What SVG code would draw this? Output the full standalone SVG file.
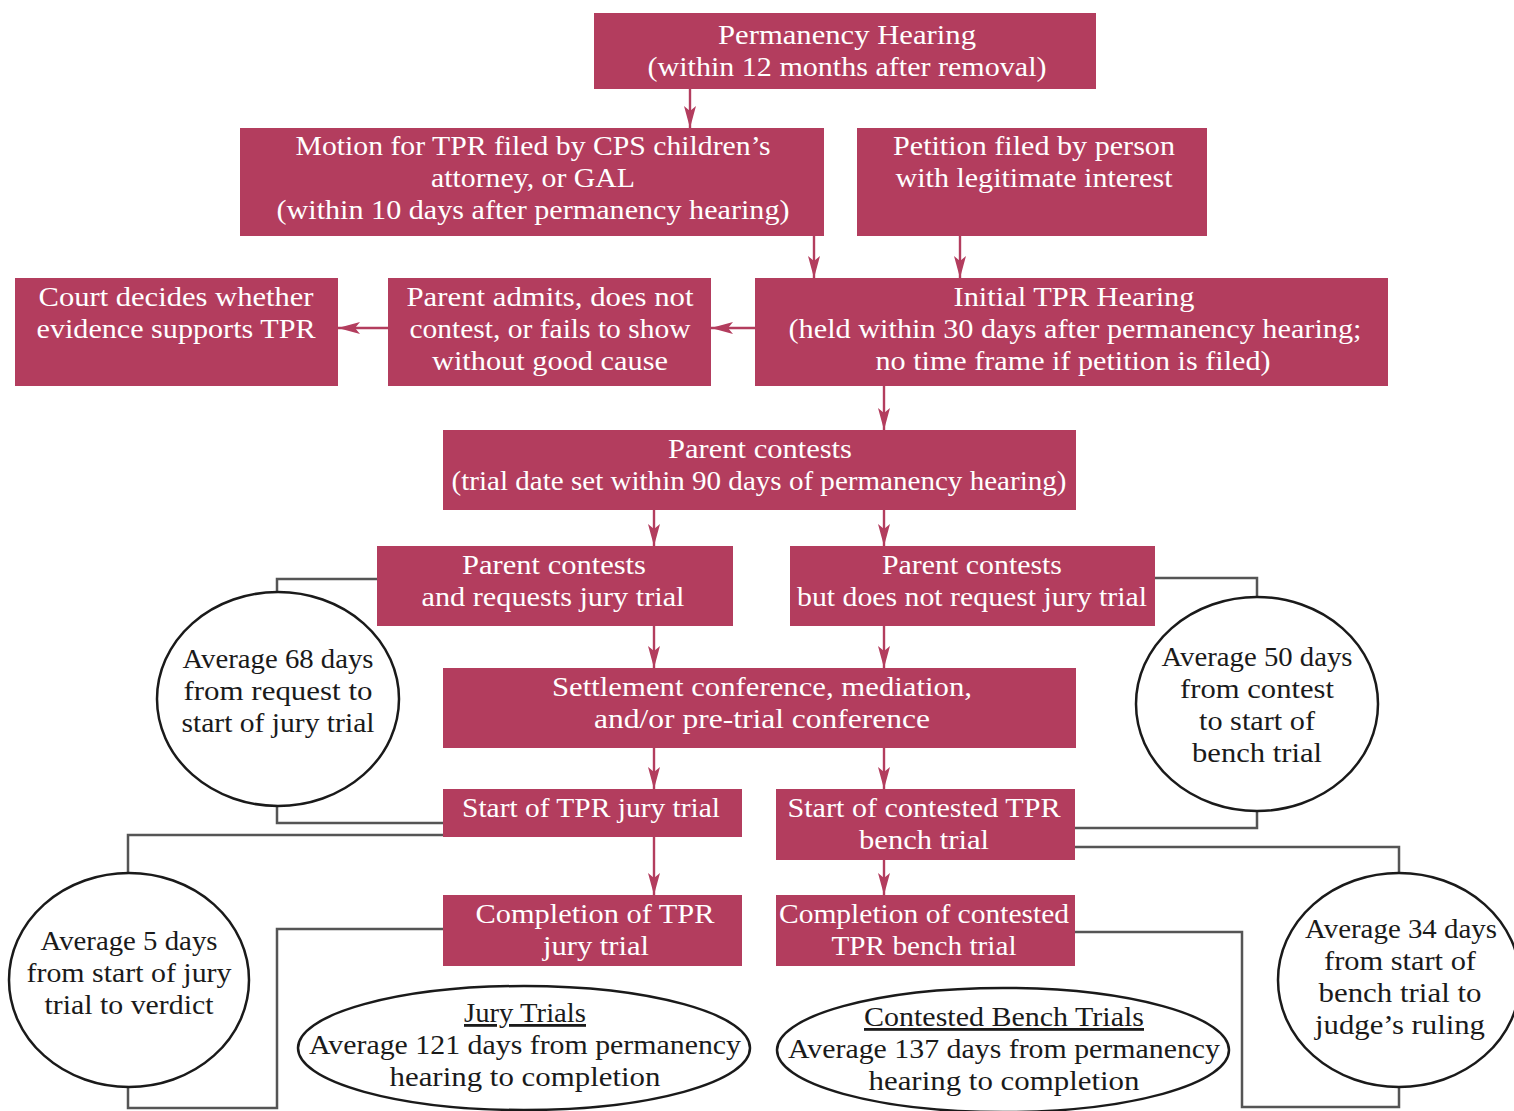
<svg xmlns="http://www.w3.org/2000/svg" width="1514" height="1111" viewBox="0 0 1514 1111">
<style>
.box{fill:#b33d5e}
.bt{fill:#ffffff;font-family:"Liberation Serif","Times New Roman",serif;font-size:28px;text-anchor:middle}
.et{fill:#1a1a1a;font-family:"Liberation Serif","Times New Roman",serif;font-size:28px;text-anchor:middle}
.ell{fill:#ffffff;stroke:#1a1a1a;stroke-width:2.5}
.flow{fill:none;stroke:#b33d5e;stroke-width:2.4}
.link{fill:none;stroke:#555555;stroke-width:2.5}
</style>
<defs>
<marker id="ah" viewBox="0 0 22 12" refX="22" refY="6" markerWidth="22" markerHeight="12" markerUnits="userSpaceOnUse" orient="auto">
<path d="M0,0 L22,6 L0,12 L5,6 Z" fill="#b33d5e"/>
</marker>
</defs>
<rect width="1514" height="1111" fill="#ffffff"/>

<g id="connectors">
<line class="flow" x1="690" y1="89" x2="690" y2="128" marker-end="url(#ah)"/>
<line class="flow" x1="814" y1="236" x2="814" y2="278" marker-end="url(#ah)"/>
<line class="flow" x1="960" y1="236" x2="960" y2="278" marker-end="url(#ah)"/>
<line class="flow" x1="755" y1="328" x2="711" y2="328" marker-end="url(#ah)"/>
<line class="flow" x1="388" y1="328" x2="338" y2="328" marker-end="url(#ah)"/>
<line class="flow" x1="884" y1="386" x2="884" y2="430" marker-end="url(#ah)"/>
<line class="flow" x1="654" y1="510" x2="654" y2="546" marker-end="url(#ah)"/>
<line class="flow" x1="884" y1="510" x2="884" y2="546" marker-end="url(#ah)"/>
<line class="flow" x1="654" y1="626" x2="654" y2="668" marker-end="url(#ah)"/>
<line class="flow" x1="884" y1="626" x2="884" y2="668" marker-end="url(#ah)"/>
<line class="flow" x1="654" y1="748" x2="654" y2="789" marker-end="url(#ah)"/>
<line class="flow" x1="884" y1="748" x2="884" y2="789" marker-end="url(#ah)"/>
<line class="flow" x1="654" y1="837" x2="654" y2="895" marker-end="url(#ah)"/>
<line class="flow" x1="884" y1="860" x2="884" y2="895" marker-end="url(#ah)"/>
<polyline class="link" points="377,579 277,579 277,592"/>
<polyline class="link" points="277,806 277,823 443,823"/>
<polyline class="link" points="1155,578 1257,578 1257,597"/>
<polyline class="link" points="1257,811 1257,828 1075,828"/>
<polyline class="link" points="443,835 128,835 128,873"/>
<polyline class="link" points="128,1087 128,1108 277,1108 277,929 443,929"/>
<polyline class="link" points="1075,847 1399,847 1399,873"/>
<polyline class="link" points="1399,1087 1399,1107 1242,1107 1242,932 1075,932"/>
</g>

<g id="n-permanency">
<rect class="box" x="594" y="13" width="502" height="76"/>
<text class="bt" x="847" y="44" textLength="258" lengthAdjust="spacingAndGlyphs">Permanency Hearing</text>
<text class="bt" x="847" y="76" textLength="399" lengthAdjust="spacingAndGlyphs">(within 12 months after removal)</text>
</g>

<g id="n-motion">
<rect class="box" x="240" y="128" width="584" height="108"/>
<text class="bt" x="533" y="155" textLength="475" lengthAdjust="spacingAndGlyphs">Motion for TPR filed by CPS children’s</text>
<text class="bt" x="533" y="187" textLength="204" lengthAdjust="spacingAndGlyphs">attorney, or GAL</text>
<text class="bt" x="533" y="219" textLength="513" lengthAdjust="spacingAndGlyphs">(within 10 days after permanency hearing)</text>
</g>

<g id="n-petition">
<rect class="box" x="857" y="128" width="350" height="108"/>
<text class="bt" x="1034" y="155" textLength="282" lengthAdjust="spacingAndGlyphs">Petition filed by person</text>
<text class="bt" x="1034" y="187" textLength="277" lengthAdjust="spacingAndGlyphs">with legitimate interest</text>
</g>

<g id="n-initial">
<rect class="box" x="755" y="278" width="633" height="108"/>
<text class="bt" x="1074" y="306" textLength="241" lengthAdjust="spacingAndGlyphs">Initial TPR Hearing</text>
<text class="bt" x="1075" y="338" textLength="573" lengthAdjust="spacingAndGlyphs">(held within 30 days after permanency hearing;</text>
<text class="bt" x="1073" y="370" textLength="395" lengthAdjust="spacingAndGlyphs">no time frame if petition is filed)</text>
</g>

<g id="n-admits">
<rect class="box" x="388" y="278" width="323" height="108"/>
<text class="bt" x="550" y="306" textLength="287" lengthAdjust="spacingAndGlyphs">Parent admits, does not</text>
<text class="bt" x="550" y="338" textLength="281" lengthAdjust="spacingAndGlyphs">contest, or fails to show</text>
<text class="bt" x="550" y="370" textLength="236" lengthAdjust="spacingAndGlyphs">without good cause</text>
</g>

<g id="n-court">
<rect class="box" x="15" y="278" width="323" height="108"/>
<text class="bt" x="176" y="306" textLength="275" lengthAdjust="spacingAndGlyphs">Court decides whether</text>
<text class="bt" x="176" y="338" textLength="279" lengthAdjust="spacingAndGlyphs">evidence supports TPR</text>
</g>

<g id="n-contests">
<rect class="box" x="443" y="430" width="633" height="80"/>
<text class="bt" x="760" y="458" textLength="184" lengthAdjust="spacingAndGlyphs">Parent contests</text>
<text class="bt" x="759" y="490" textLength="615" lengthAdjust="spacingAndGlyphs">(trial date set within 90 days of permanency hearing)</text>
</g>

<g id="n-jury-request">
<rect class="box" x="377" y="546" width="356" height="80"/>
<text class="bt" x="554" y="574" textLength="184" lengthAdjust="spacingAndGlyphs">Parent contests</text>
<text class="bt" x="553" y="606" textLength="263" lengthAdjust="spacingAndGlyphs">and requests jury trial</text>
</g>

<g id="n-no-jury">
<rect class="box" x="790" y="546" width="365" height="80"/>
<text class="bt" x="972" y="574" textLength="180" lengthAdjust="spacingAndGlyphs">Parent contests</text>
<text class="bt" x="972" y="606" textLength="350" lengthAdjust="spacingAndGlyphs">but does not request jury trial</text>
</g>

<g id="n-settlement">
<rect class="box" x="443" y="668" width="633" height="80"/>
<text class="bt" x="762" y="696" textLength="420" lengthAdjust="spacingAndGlyphs">Settlement conference, mediation,</text>
<text class="bt" x="762" y="728" textLength="336" lengthAdjust="spacingAndGlyphs">and/or pre-trial conference</text>
</g>

<g id="n-start-jury">
<rect class="box" x="443" y="789" width="299" height="48"/>
<text class="bt" x="591" y="817" textLength="258" lengthAdjust="spacingAndGlyphs">Start of TPR jury trial</text>
</g>

<g id="n-start-bench">
<rect class="box" x="776" y="789" width="299" height="71"/>
<text class="bt" x="924" y="817" textLength="273" lengthAdjust="spacingAndGlyphs">Start of contested TPR</text>
<text class="bt" x="924" y="849" textLength="130" lengthAdjust="spacingAndGlyphs">bench trial</text>
</g>

<g id="n-complete-jury">
<rect class="box" x="443" y="895" width="299" height="71"/>
<text class="bt" x="595" y="923" textLength="239" lengthAdjust="spacingAndGlyphs">Completion of TPR</text>
<text class="bt" x="596" y="955" textLength="106" lengthAdjust="spacingAndGlyphs">jury trial</text>
</g>

<g id="n-complete-bench">
<rect class="box" x="776" y="895" width="299" height="71"/>
<text class="bt" x="924" y="923" textLength="290" lengthAdjust="spacingAndGlyphs">Completion of contested</text>
<text class="bt" x="924" y="955" textLength="185" lengthAdjust="spacingAndGlyphs">TPR bench trial</text>
</g>

<g id="e-68days">
<ellipse class="ell" cx="278" cy="699" rx="121" ry="107"/>
<text class="et" x="278" y="668" textLength="191" lengthAdjust="spacingAndGlyphs">Average 68 days</text>
<text class="et" x="278" y="700" textLength="189" lengthAdjust="spacingAndGlyphs">from request to</text>
<text class="et" x="278" y="732" textLength="193" lengthAdjust="spacingAndGlyphs">start of jury trial</text>
</g>

<g id="e-50days">
<ellipse class="ell" cx="1257" cy="704" rx="121" ry="107"/>
<text class="et" x="1257" y="666" textLength="191" lengthAdjust="spacingAndGlyphs">Average 50 days</text>
<text class="et" x="1257" y="698" textLength="154" lengthAdjust="spacingAndGlyphs">from contest</text>
<text class="et" x="1257" y="730" textLength="116" lengthAdjust="spacingAndGlyphs">to start of</text>
<text class="et" x="1257" y="762" textLength="130" lengthAdjust="spacingAndGlyphs">bench trial</text>
</g>

<g id="e-5days">
<ellipse class="ell" cx="129" cy="980" rx="120" ry="107"/>
<text class="et" x="129" y="950" textLength="177" lengthAdjust="spacingAndGlyphs">Average 5 days</text>
<text class="et" x="129" y="982" textLength="205" lengthAdjust="spacingAndGlyphs">from start of jury</text>
<text class="et" x="129" y="1014" textLength="169" lengthAdjust="spacingAndGlyphs">trial to verdict</text>
</g>

<g id="e-34days">
<ellipse class="ell" cx="1399" cy="980" rx="121" ry="107"/>
<text class="et" x="1401" y="938" textLength="192" lengthAdjust="spacingAndGlyphs">Average 34 days</text>
<text class="et" x="1400" y="970" textLength="152" lengthAdjust="spacingAndGlyphs">from start of</text>
<text class="et" x="1400" y="1002" textLength="163" lengthAdjust="spacingAndGlyphs">bench trial to</text>
<text class="et" x="1400" y="1034" textLength="170" lengthAdjust="spacingAndGlyphs">judge’s ruling</text>
</g>

<g id="e-jury-summary">
<ellipse class="ell" cx="524" cy="1048" rx="226" ry="62"/>
<text class="et" x="525" y="1022" textLength="122" lengthAdjust="spacingAndGlyphs" text-decoration="underline">Jury Trials</text>
<text class="et" x="525" y="1054" textLength="432" lengthAdjust="spacingAndGlyphs">Average 121 days from permanency</text>
<text class="et" x="525" y="1086" textLength="271" lengthAdjust="spacingAndGlyphs">hearing to completion</text>
</g>

<g id="e-bench-summary">
<ellipse class="ell" cx="1003" cy="1050" rx="226" ry="62"/>
<text class="et" x="1004" y="1026" textLength="280" lengthAdjust="spacingAndGlyphs" text-decoration="underline">Contested Bench Trials</text>
<text class="et" x="1004" y="1058" textLength="432" lengthAdjust="spacingAndGlyphs">Average 137 days from permanency</text>
<text class="et" x="1004" y="1090" textLength="271" lengthAdjust="spacingAndGlyphs">hearing to completion</text>
</g>
</svg>
